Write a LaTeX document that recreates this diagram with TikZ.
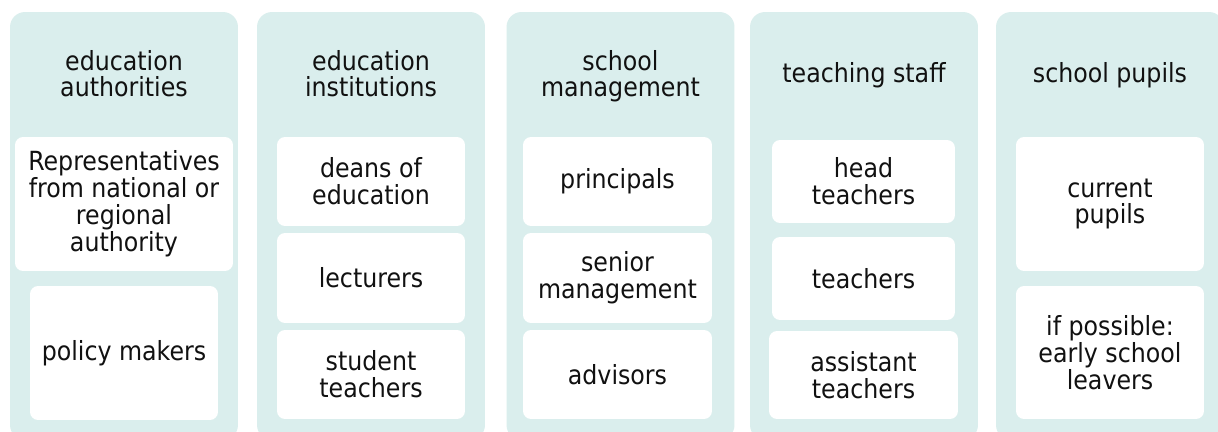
\documentclass[tikz,border=0pt]{standalone}
\usepackage{fontspec}
\setmainfont{DejaVu Sans Condensed}
\usepackage{xcolor}
\usetikzlibrary{positioning}

\definecolor{groupbg}{HTML}{DAEEED}
\definecolor{textcol}{HTML}{111111}

\tikzset{
  group/.style={fill=groupbg, rounded corners=0.3cm, minimum width=4.56cm,
    minimum height=8.56cm, inner sep=0pt},
  head/.style={align=center, text=textcol, inner sep=0pt, anchor=base,
    font=\fontsize{15}{15.3}\selectfont},
  item/.style={fill=white, rounded corners=0.16cm, align=center, text=textcol,
    inner sep=0pt, font=\fontsize{15}{15.3}\selectfont},
}

\begin{document}
\begin{tikzpicture}[x=0.02cm, y=-0.02cm]

  % page frame, the columns run off the bottom edge
  \clip (0,0) rectangle (1218,432);
  \fill[white] (0,0) rectangle (1218,432);

  % background columns
  \node[group] (authcol)  at (124,226)   {};
  \node[group] (instcol)  at (371,226)   {};
  \node[group] (mgmtcol)  at (620.5,226) {};
  \node[group] (staffcol) at (864,226)   {};
  \node[group] (pupilcol) at (1110,226)  {};

  % column titles (placed on their last baseline)
  \node[head] (authhead)  at (124,97)   {education\\authorities};
  \node[head] (insthead)  at (371,97)   {education\\institutions};
  \node[head] (mgmthead)  at (620.5,97) {school\\management};
  \node[head] (staffhead) at (864,83)   {teaching staff};
  \node[head] (pupilhead) at (1110,83)  {school pupils};

  % education authorities
  \node[item, minimum width=4.36cm, minimum height=2.68cm] (reps) at (124,204)
    {Representatives\\from national or\\regional\\authority};
  \node[item, minimum width=3.76cm, minimum height=2.68cm] (policy) at (124,353)
    {policy makers};

  % education institutions
  \node[item, minimum width=3.76cm, minimum height=1.78cm] (deans) at (371,181.5)
    {deans of\\education};
  \node[item, minimum width=3.76cm, minimum height=1.80cm] (lect) at (371,278)
    {lecturers};
  \node[item, minimum width=3.76cm, minimum height=1.78cm] (stud) at (371,374.5)
    {student\\teachers};

  % school management
  \node[item, minimum width=3.78cm, minimum height=1.78cm] (princ) at (617.5,181.5)
    {principals};
  \node[item, minimum width=3.78cm, minimum height=1.80cm] (senior) at (617.5,278)
    {senior\\management};
  \node[item, minimum width=3.78cm, minimum height=1.78cm] (advis) at (617.5,374.5)
    {advisors};

  % teaching staff
  \node[item, minimum width=3.66cm, minimum height=1.66cm] (headt) at (863.5,181.5)
    {head\\teachers};
  \node[item, minimum width=3.66cm, minimum height=1.66cm] (teach) at (863.5,278.5)
    {teachers};
  \node[item, minimum width=3.78cm, minimum height=1.76cm] (assist) at (863.5,375)
    {assistant\\teachers};

  % school pupils
  \node[item, minimum width=3.76cm, minimum height=2.68cm] (curr) at (1110,204)
    {current\\pupils};
  \node[item, minimum width=3.76cm, minimum height=2.66cm] (leavers) at (1110,352.5)
    {if possible:\\early school\\leavers};

\end{tikzpicture}
\end{document}
